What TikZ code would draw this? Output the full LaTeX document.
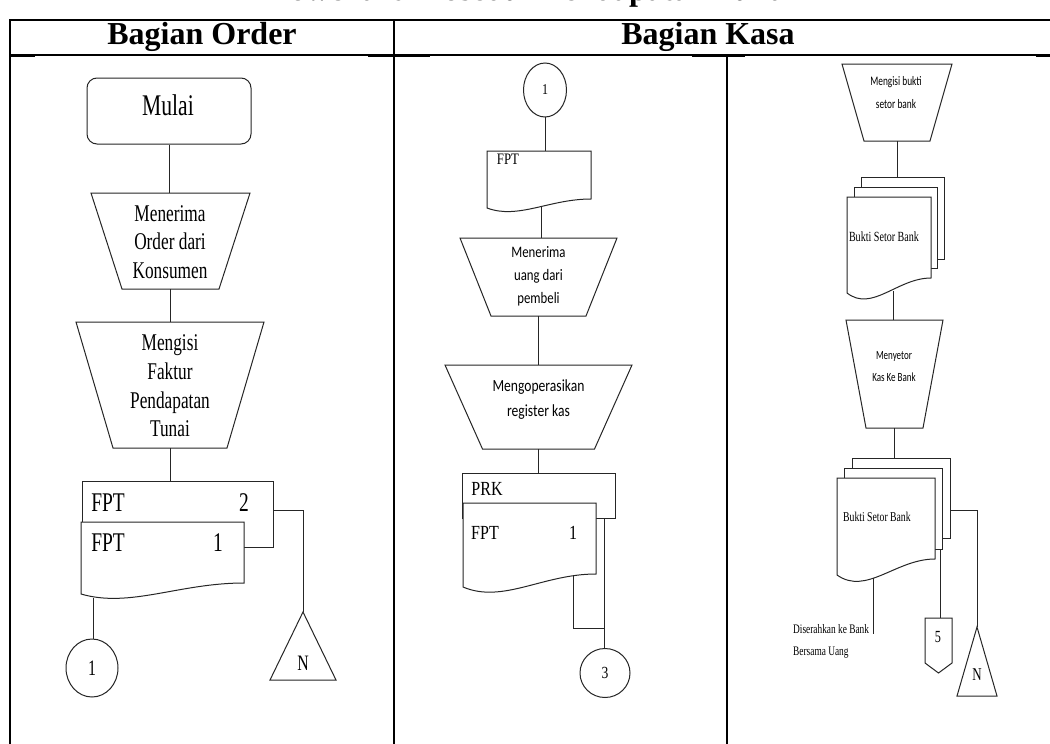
\documentclass[tikz,border=0pt]{standalone}
\usepackage{fontspec}
\setmainfont{Liberation Serif}
\newfontfamily\serc[FakeStretch=0.72]{Liberation Serif}
\newfontfamily\sermid[FakeStretch=0.8]{Liberation Serif}
\newfontfamily\sansm[FakeStretch=0.8]{Carlito}
\newfontfamily\sansr[FakeStretch=0.72]{Carlito}
\usetikzlibrary{shapes.geometric,calc}

% manual input (trapezoid): name, centre x, top y, top width, inset, height
\newcommand\trapshape[6]{%
  \node[box, minimum width=#4pt, minimum height=#6pt, anchor=north] (#1) at (#2,#3) {};
  \draw[shp] (#1.north west) -- (#1.north east) -- ([xshift=-#5pt]#1.south east)
    -- ([xshift=#5pt]#1.south west) -- cycle;}
% document with wavy bottom: name, left, top, right, right bottom, left bottom
\newcommand\docshape[6]{%
  \pgfmathsetmacro\docw{#4-#2}\pgfmathsetmacro\docd{#6-#5}\pgfmathsetmacro\doch{#6-#3}%
  \draw[shp, fill=white] (#2,#3) -- (#4,#3) -- (#4,#5)
    .. controls ({#2+0.6*\docw},#5) and ({#2+0.3*\docw},{#6+1.3*\docd}) .. (#2,#6) -- cycle;
  \node[box, minimum width=\docw pt, minimum height=\doch pt, anchor=north west] (#1) at (#2,#3) {};}

\begin{document}
\begin{tikzpicture}[x=1pt,y=-1pt,
  shp/.style={draw=black!85, line width=1pt},
  box/.style={inner sep=0pt, outer sep=0pt},
  sheet/.style={shp, fill=white, inner sep=0pt, outer sep=0pt, anchor=north west},
  conn/.style={shp, ellipse, inner sep=0pt, outer sep=0pt},
  rule/.style={draw=black, line width=1.3pt},
  bar/.style={draw=black, line width=2.6pt},
  txt/.style={inner sep=0pt, align=center}]
\useasboundingbox (0,0) rectangle (1050,744);
\clip (0,0) rectangle (1050,744);
\fill[white] (0,0) rectangle (1050,744);

% title, running off the top edge
\node[inner sep=0pt, font=\bfseries\fontsize{32}{36}\selectfont, anchor=base] (title) at (528,1) {Flowchart Prosedur Pendapatan Tunai};

% table frame
\draw[rule] (10,20) -- (1050,20);
\draw[rule] (10,55) -- (1050,55);
\draw[line width=2.2pt] (10,55.5) -- (35,55.5);
\draw[line width=2.2pt] (368,55.5) -- (430,55.5);
\draw[line width=2.2pt] (692,55.5) -- (745,55.5);
\draw[line width=2.2pt] (1036,55.5) -- (1050,55.5);
\draw[bar] (10,19) -- (10,744);
\draw[bar] (394,19) -- (394,744);
\draw[bar] (727,55) -- (727,744);

\node[txt, font=\bfseries\fontsize{32}{36}\selectfont] (hOrder) at (202,37) {Bagian Order};
\node[txt, font=\bfseries\fontsize{32}{36}\selectfont] (hKasa) at (708,37) {Bagian Kasa};

% ---------------- Bagian Order ----------------
\node[shp, rounded corners=10pt, minimum width=164pt, minimum height=66pt, inner sep=0pt] (mulai) at (169,111) {};
\node[txt, font=\serc\fontsize{30}{34}\selectfont] (mulaiT) at (168,105) {Mulai};

\trapshape{t1}{170.5}{193}{159}{31}{96}
\node[txt, font=\serc\fontsize{24}{28.5}\selectfont] (t1T) at (170,242) {Menerima\\Order dari\\Konsumen};

\trapshape{t2}{170}{322}{188}{37}{126}
\node[txt, font=\serc\fontsize{24}{28.7}\selectfont] (t2T) at (170,386) {Mengisi\\Faktur\\Pendapatan\\Tunai};

\node[sheet, minimum width=191pt, minimum height=66pt] (fpt2) at (82,481) {};
\docshape{fpt1}{81}{522}{244}{583}{594}
\begin{scope}[every node/.style={txt, font=\serc\fontsize{27}{30}\selectfont}]
\node (fpt2a) at (108,503) {FPT};
\node (fpt2n) at (244,503) {2};
\node (fpt1a) at (108,543) {FPT};
\node (fpt1n) at (218,543) {1};
\end{scope}

\node[conn, minimum width=52pt, minimum height=58pt, font=\serc\fontsize{22}{24}\selectfont] (c1) at (92,668) {1};

\node[box, minimum width=66pt, minimum height=68pt, anchor=north] (triL) at (303,612) {};
\draw[shp] (triL.north) -- (triL.south east) -- (triL.south west) -- cycle;
\node[txt, font=\serc\fontsize{22}{24}\selectfont] (triLT) at (303,663) {N};

\draw[shp] (mulai.south) -- (mulai.south |- t1.north);
\draw[shp] (t1.south) -- (t1.south |- t2.north);
\draw[shp] (t2.south) -- (t2.south |- fpt2.north);
\coordinate (fpt1out) at (93,598);
\draw[shp] (fpt1out) -- (fpt1out |- c1.north);
\draw[shp] (fpt2.east |- 0,510) -| (triL.north);

% ---------------- Bagian Kasa (tengah) ----------------
\node[conn, minimum width=43pt, minimum height=54pt, font=\sermid\fontsize{15}{17}\selectfont] (c1b) at (545,90) {1};
\docshape{fptm}{487}{151}{591}{199}{208}
\node[txt, font=\sermid\fontsize{16}{18}\selectfont] (fptmT) at (508,159) {FPT};

\trapshape{t3}{538.5}{238}{157}{31}{78}
\node[txt, font=\sansm\fontsize{16}{23}\selectfont] (t3T) at (538.5,276) {Menerima\\uang dari\\pembeli};

\trapshape{t4}{538.5}{365}{187}{37.5}{84}
\node[txt, font=\sansm\fontsize{17}{25}\selectfont] (t4T) at (538.5,400) {Mengoperasikan\\register kas};

\node[sheet, minimum width=153pt, minimum height=45pt] (prk) at (462,473) {};
\docshape{fptk}{463}{503}{596}{574}{587}
\begin{scope}[every node/.style={txt, font=\sermid\fontsize{20}{22}\selectfont}]
\node (prkT) at (487,489) {PRK};
\node (fptkT) at (485,533) {FPT};
\node (fptkN) at (573,533) {1};
\end{scope}

\node[conn, minimum width=50pt, minimum height=49pt, font=\sermid\fontsize{17}{19}\selectfont] (c3) at (605,673) {3};

\draw[shp] (c1b.south) -- (c1b.south |- fptm.north);
\coordinate (fptmout) at (541,206);
\draw[shp] (fptmout) -- (fptmout |- t3.north);
\draw[shp] (t3.south) -- (t3.south |- t4.north);
\draw[shp] (t4.south) -- (t4.south |- prk.north);
\coordinate (fptkout) at (573,575);
\coordinate (mrg) at (604,628);
\draw[shp] (fptkout) |- (mrg);
\draw[shp] (prk.south -| mrg) -- (mrg |- c3.north);

% ---------------- Bagian Kasa (kanan) ----------------
\trapshape{t5}{897}{64}{110}{22}{77}
\node[txt, font=\sansr\fontsize{13}{23}\selectfont] (t5T) at (896,92.5) {Mengisi bukti\\setor bank};

\node[sheet, minimum width=83pt, minimum height=82pt] (bsb1c) at (861,177) {};
\node[sheet, minimum width=83pt, minimum height=81pt] (bsb1b) at (854,187) {};
\docshape{bsb1}{847}{197}{931}{278}{293}
\node[txt, font=\serc\fontsize{14}{16}\selectfont] (bsb1T) at (884,237) {Bukti Setor Bank};

\trapshape{t6}{894.5}{320}{97}{20}{108}
\node[txt, font=\sansr\fontsize{12.5}{22}\selectfont] (t6T) at (894,367) {Menyetor\\Kas Ke Bank};

\node[sheet, minimum width=98pt, minimum height=80pt] (bsb2c) at (852,458) {};
\node[sheet, minimum width=98pt, minimum height=81pt] (bsb2b) at (844,468) {};
\docshape{bsb2}{837}{478}{935}{559}{575}
\node[txt, anchor=west, font=\serc\fontsize{13.5}{16}\selectfont] (bsb2T) at (843,517) {Bukti Setor Bank};

\node[txt, anchor=west, font=\serc\fontsize{13}{15}\selectfont] (note1) at (793,629) {Diserahkan ke Bank};
\node[txt, anchor=west, font=\serc\fontsize{13}{15}\selectfont] (note2) at (793,653) {Bersama Uang};

\node[box, minimum width=27pt, minimum height=55pt, anchor=north] (off5) at (938.5,618) {};
\draw[shp] (off5.north west) -- (off5.north east) -- ([yshift=10pt]off5.south east)
  -- (off5.south) -- ([yshift=10pt]off5.south west) -- cycle;
\node[txt, font=\serc\fontsize{17}{19}\selectfont] (off5T) at (938,637) {5};

\node[box, minimum width=40pt, minimum height=69pt, anchor=north] (triR) at (977,627) {};
\draw[shp] (triR.north) -- (triR.south east) -- (triR.south west) -- cycle;
\node[txt, font=\serc\fontsize{18}{20}\selectfont] (triRT) at (977,675) {N};

\draw[shp] (t5.south) -- (t5.south |- bsb1c.north);
\coordinate (bsb1out) at (893,291);
\draw[shp] (bsb1out) -- (bsb1out |- t6.north);
\draw[shp] (t6.south) -- (t6.south |- bsb2c.north);
\coordinate (bsb2out) at (873,578);
\draw[shp] (bsb2out) -- (bsb2out |- note1.south);
\coordinate (m5) at (940,549);
\draw[shp] (m5) -- (m5 |- off5.north);
\draw[shp] (bsb2c.east |- 0,510) -| (triR.north);
\end{tikzpicture}
\end{document}
